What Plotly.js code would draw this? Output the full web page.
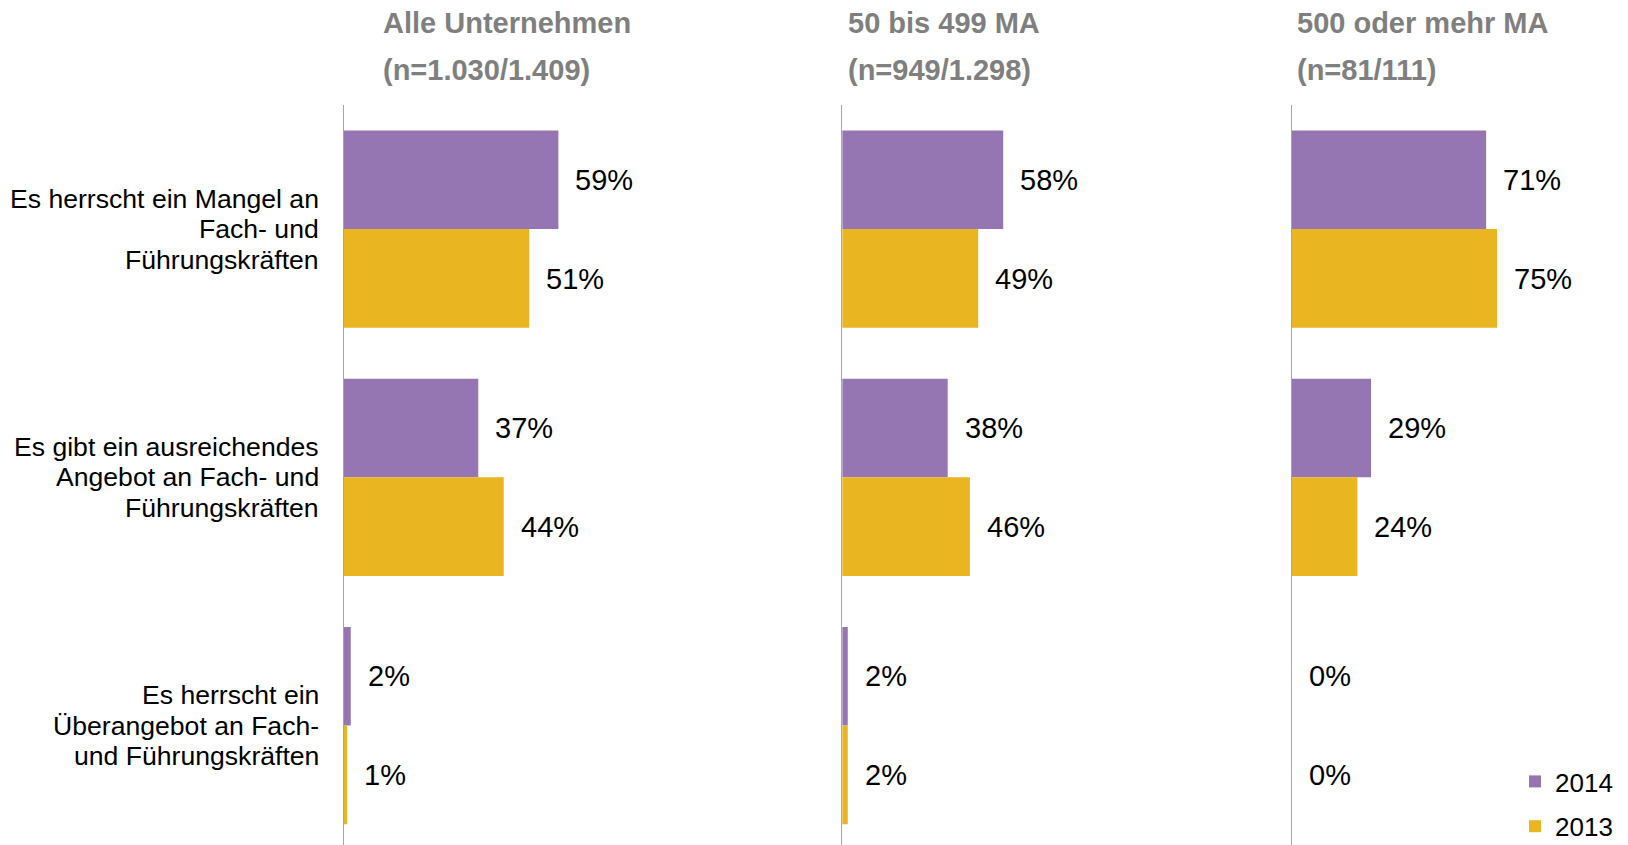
<!DOCTYPE html>
<html>
<head>
<meta charset="utf-8">
<script src="https://cdn.plot.ly/plotly-3.0.1.min.js"></script>
<style>
  html, body { margin: 0; padding: 0; background: #ffffff; }
  #chart { width: 1628px; height: 845px; }
</style>
</head>
<body>
<div id="chart"></div>
<script>
// ---- Data ----
const categories = [
  "Es herrscht ein Mangel an Fach- und Führungskräften",
  "Es gibt ein ausreichendes Angebot an Fach- und Führungskräften",
  "Es herrscht ein Überangebot an Fach- und Führungskräften"
];
const categoryLines = [
  ["Es herrscht ein Mangel an", "Fach- und", "Führungskräften"],
  ["Es gibt ein ausreichendes", "Angebot an Fach- und", "Führungskräften"],
  ["Es herrscht ein", "Überangebot an Fach-", "und Führungskräften"]
];
const panelTitles = ["Alle Unternehmen", "50 bis 499 MA", "500 oder mehr MA"];
const panelSamples = ["(n=1.030/1.409)", "(n=949/1.298)", "(n=81/111)"];
const seriesNames = ["2014", "2013"];
const values2014 = [
  [59, 37, 2],   // Alle Unternehmen
  [58, 38, 2],   // 50 bis 499 MA
  [71, 29, 0]    // 500 oder mehr MA
];
const values2013 = [
  [51, 44, 1],
  [49, 46, 2],
  [75, 24, 0]
];

// ---- Styling ----
const W = 1628, H = 845;
const FONT = "Liberation Sans, Arial, sans-serif";
const colors = ["#9576B2", "#E9B521"];
const panelLeftPx = [343.5, 842.2, 1291.6];
const panelWidthPx = [364.2, 277.6, 274.0];
const titleLeftPx = [380.7, 846, 1295];

const plotTopPx = 105;
const yRange = [2.481, -0.5];
const yDomain = [0, (H - plotTopPx) / H];

const traces = [];
const annotations = [];
const layout = {
  width: W, height: H,
  margin: {l: 0, r: 0, t: 0, b: 0, autoexpand: false},
  paper_bgcolor: "#ffffff",
  plot_bgcolor: "rgba(0,0,0,0)",
  barmode: "group",
  bargap: 0.205,
  bargroupgap: 0,
  font: {family: FONT, color: "#000000"},
  showlegend: true,
  legend: {
    x: 1515 / W, xanchor: "left",
    y: (H - 758) / H, yanchor: "top",
    font: {family: FONT, size: 26, color: "#000000"},
    bgcolor: "rgba(0,0,0,0)",
    traceorder: "grouped",
    tracegroupgap: 8,
    itemclick: false
  },
  annotations: annotations
};

const allVals = [values2014, values2013];

for (let p = 0; p < 3; p++) {
  const xa = p === 0 ? "x" : "x" + (p + 1);
  const ya = p === 0 ? "y" : "y" + (p + 1);
  const xKey = p === 0 ? "xaxis" : "xaxis" + (p + 1);
  const yKey = p === 0 ? "yaxis" : "yaxis" + (p + 1);
  layout[xKey] = {
    domain: [panelLeftPx[p] / W, (panelLeftPx[p] + panelWidthPx[p]) / W],
    range: [0, 100],
    visible: false,
    fixedrange: true,
    anchor: ya
  };
  layout[yKey] = {
    domain: yDomain,
    range: yRange,
    type: "category",
    categoryorder: "array",
    categoryarray: categories,
    showline: true,
    linecolor: "#a6a6a6",
    linewidth: 1,
    showticklabels: false,
    showgrid: false,
    zeroline: false,
    ticks: "",
    fixedrange: true,
    anchor: xa
  };

  for (let s = 0; s < 2; s++) {
    traces.push({
      type: "bar",
      orientation: "h",
      name: seriesNames[s],
      legendgroup: seriesNames[s],
      showlegend: p === 0,
      x: allVals[s][p],
      y: categories,
      xaxis: xa,
      yaxis: ya,
      marker: {color: colors[s], line: {width: 0}},
      hoverinfo: "skip"
    });
    // value labels
    for (let c = 0; c < categories.length; c++) {
      annotations.push({
        xref: xa, yref: ya,
        x: allVals[s][p][c], y: categories[c],
        text: allVals[s][p][c] + "%",
        showarrow: false,
        xanchor: "left", yanchor: "middle",
        xshift: 15,
        yshift: s === 0 ? 49.5 : -49.5,
        font: {family: FONT, size: 29, color: "#000000"}
      });
    }
  }

  // panel titles
  annotations.push({
    xref: "paper", yref: "paper",
    x: titleLeftPx[p] / W, y: (H - 23) / H,
    text: "<b>" + panelTitles[p] + "</b>",
    showarrow: false, xanchor: "left", yanchor: "middle",
    font: {family: FONT, size: 29, color: "#7f7f7f"}
  });
  annotations.push({
    xref: "paper", yref: "paper",
    x: titleLeftPx[p] / W, y: (H - 70) / H,
    text: "<b>" + panelSamples[p] + "</b>",
    showarrow: false, xanchor: "left", yanchor: "middle",
    font: {family: FONT, size: 29, color: "#7f7f7f"}
  });
}

// category labels (one annotation per line for tight line spacing)
const lineOffsets = [30.5, 0, -30.5];
for (let c = 0; c < categories.length; c++) {
  for (let l = 0; l < categoryLines[c].length; l++) {
    annotations.push({
      xref: "paper", yref: "y",
      x: 321 / W, y: categories[c],
      text: categoryLines[c][l],
      showarrow: false, xanchor: "right", yanchor: "middle",
      yshift: lineOffsets[l],
      font: {family: FONT, size: 26.6, color: "#000000"}
    });
  }
}

Plotly.newPlot("chart", traces, layout, {staticPlot: true, displayModeBar: false});
</script>
</body>
</html>
